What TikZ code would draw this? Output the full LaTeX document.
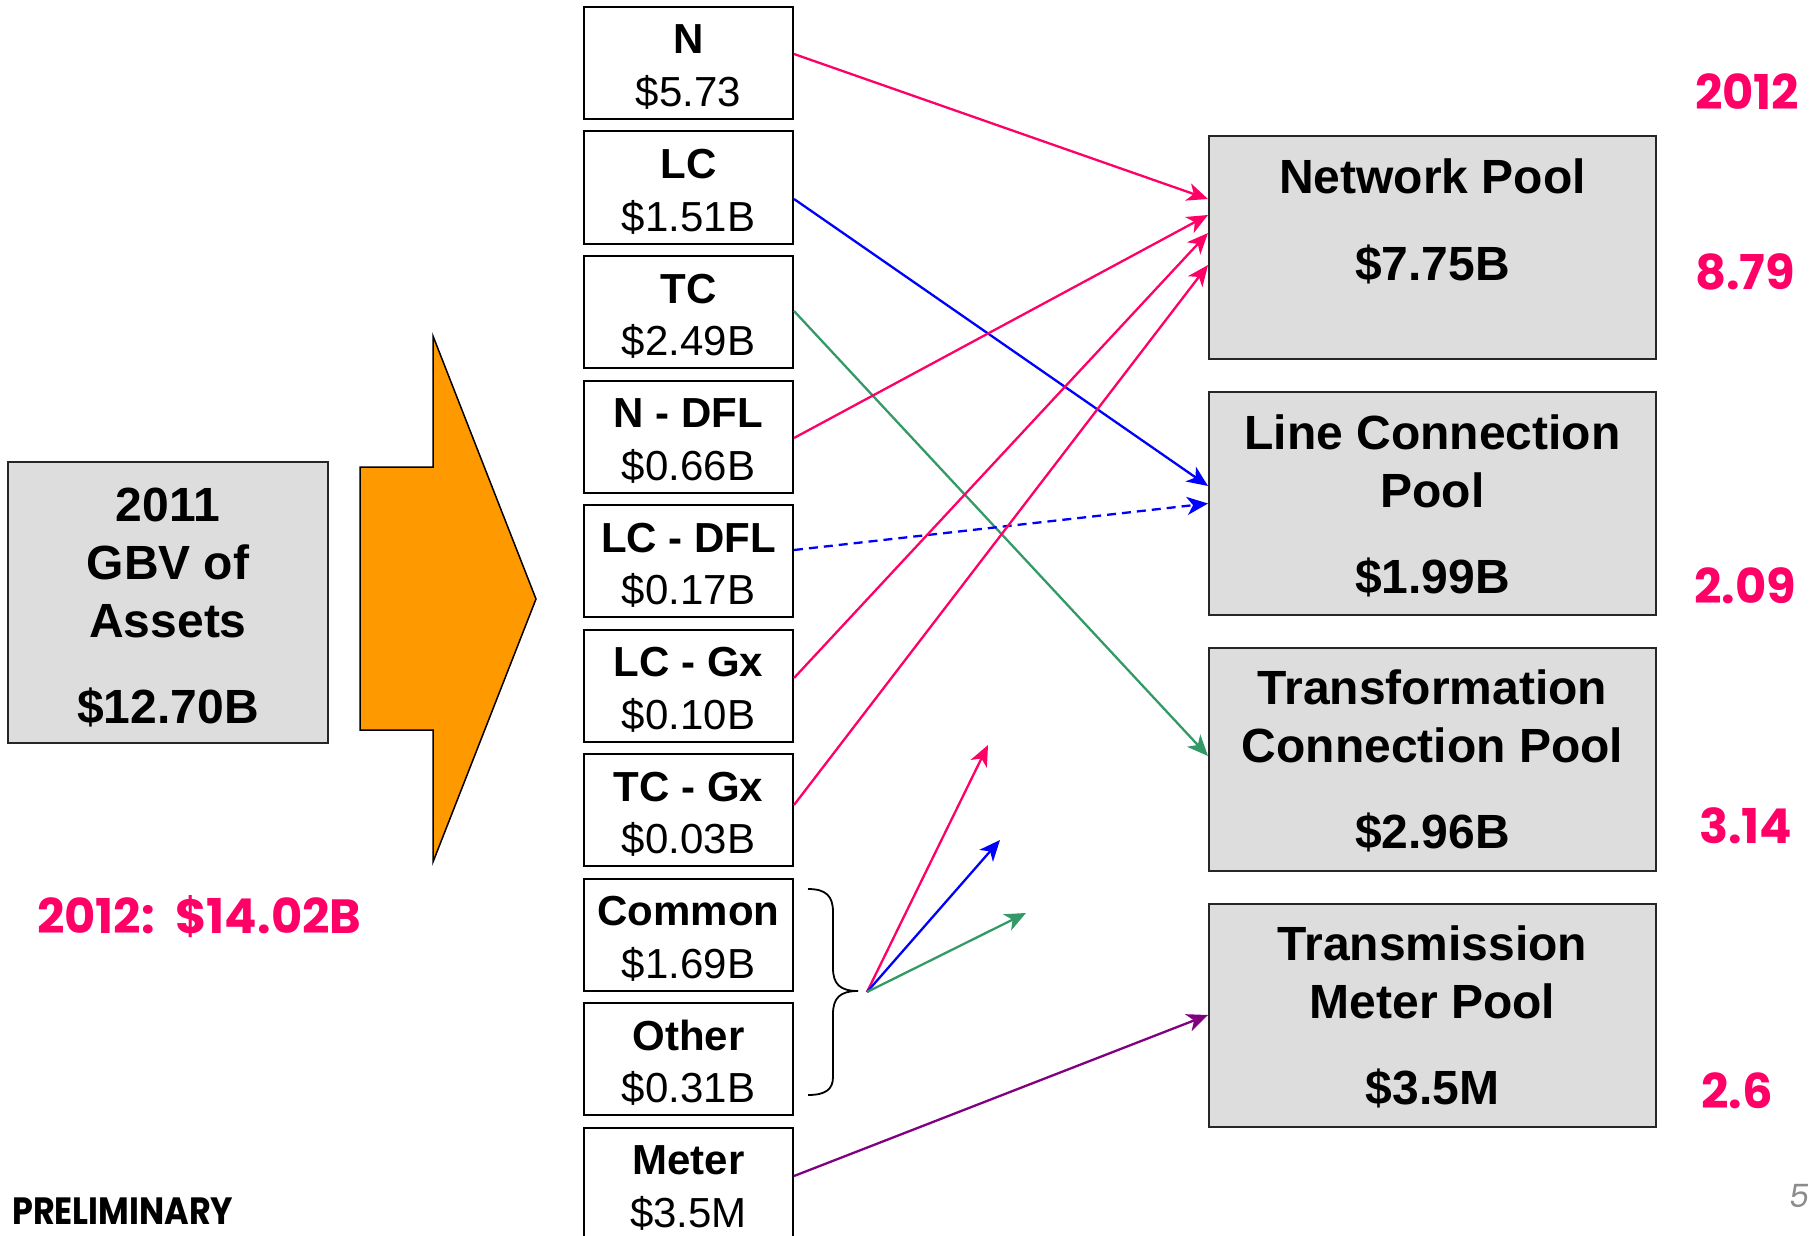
\documentclass[tikz,border=0pt]{standalone}
\usepackage{fontspec}
\setmainfont{Liberation Sans}
\newfontfamily\geofont{Poppins}
\newfontfamily\geonarrow[FakeStretch=0.88]{Poppins}
\usetikzlibrary{arrows.meta}
\definecolor{cred}{HTML}{FF0066}
\definecolor{cblue}{HTML}{0000FF}
\definecolor{cgreen}{HTML}{339966}
\definecolor{cpurple}{HTML}{800080}
\definecolor{corange}{HTML}{FF9900}
\definecolor{boxgray}{HTML}{DDDDDD}
\newcommand\tlines[1]{\begin{tabular}[t]{@{}c@{}}#1\end{tabular}}
\begin{document}
\begin{tikzpicture}[x=1pt,y=-1pt,
  src/.style={draw=black, line width=2pt, minimum width=209pt, minimum height=112pt, inner sep=0pt},
  stext/.style={anchor=base, inner sep=0pt, font=\fontsize{42}{52.5}\selectfont},
  pool/.style={draw=black!85, fill=boxgray, line width=2pt, minimum width=447pt, minimum height=223pt, inner sep=0pt},
  ptext/.style={anchor=base, inner sep=0pt, font=\fontsize{48}{58}\selectfont\bfseries},
  conn/.style={line width=2.3pt, -{Stealth[length=21pt,width=18pt,inset=6pt]}},
  rednum/.style={anchor=base west, inner sep=0pt, text=cred, font=\geofont\fontsize{48}{50}\selectfont\bfseries}
]
\useasboundingbox (0,0) rectangle (1817,1236);
\clip (0,0) rectangle (1817,1236);

% left assets box
\node[pool, minimum width=320pt, minimum height=281pt] (assets) at (168,602.5) {};
\node[ptext] (assets-t) at ([yshift=81.5pt]assets.center) {\tlines{2011\\GBV of\\Assets\\[28pt]\$12.70B}};

% orange arrow
\draw[fill=corange, line width=1.5pt, line join=miter] (360,467) -- (433,467) -- (433,336) -- (536,599) -- (433,862) -- (433,730) -- (360,730) -- cycle;

% source boxes
\node[src] (n) at (688.5,63) {};
\node[src] (lc) at (688.5,187.5) {};
\node[src] (tc) at (688.5,312) {};
\node[src] (ndfl) at (688.5,436.5) {};
\node[src] (lcdfl) at (688.5,561) {};
\node[src] (lcgx) at (688.5,685.5) {};
\node[src] (tcgx) at (688.5,810) {};
\node[src] (common) at (688.5,934.5) {};
\node[src] (other) at (688.5,1059) {};
\node[src] (meter) at (688.5,1183.5) {};

\node[stext] (n-t) at ([yshift=9pt]n.center) {\tlines{\textbf{N}\\\$5.73}};
\node[stext] (lc-t) at ([yshift=9pt]lc.center) {\tlines{\textbf{LC}\\\$1.51B}};
\node[stext] (tc-t) at ([yshift=9pt]tc.center) {\tlines{\textbf{TC}\\\$2.49B}};
\node[stext] (ndfl-t) at ([yshift=9pt]ndfl.center) {\tlines{\textbf{N - DFL}\\\$0.66B}};
\node[stext] (lcdfl-t) at ([yshift=9pt]lcdfl.center) {\tlines{\textbf{LC - DFL}\\\$0.17B}};
\node[stext] (lcgx-t) at ([yshift=9pt]lcgx.center) {\tlines{\textbf{LC - Gx}\\\$0.10B}};
\node[stext] (tcgx-t) at ([yshift=9pt]tcgx.center) {\tlines{\textbf{TC - Gx}\\\$0.03B}};
\node[stext] (common-t) at ([yshift=9pt]common.center) {\tlines{\textbf{Common}\\\$1.69B}};
\node[stext] (other-t) at ([yshift=9pt]other.center) {\tlines{\textbf{Other}\\\$0.31B}};
\node[stext] (meter-t) at ([yshift=9pt]meter.center) {\tlines{\textbf{Meter}\\\$3.5M}};

% pools
\node[pool] (np) at (1432.5,247.5) {};
\node[pool] (lcp) at (1432.5,503.5) {};
\node[pool] (tcp) at (1432.5,759) {};
\node[pool] (tmp) at (1432.5,1015) {};

\node[ptext] (np-t) at ([yshift=54.5pt]np.center) {Network Pool};
\node[ptext] (np-v) at ([yshift=-32.5pt]np.center) {\$7.75B};
\node[ptext] (lcp-t) at ([yshift=54.5pt]lcp.center) {\tlines{Line Connection\\Pool}};
\node[ptext] (lcp-v) at ([yshift=-89.5pt]lcp.center) {\$1.99B};
\node[ptext] (tcp-t) at ([yshift=54.5pt]tcp.center) {\tlines{Transformation\\Connection Pool}};
\node[ptext] (tcp-v) at ([yshift=-89.5pt]tcp.center) {\$2.96B};
\node[ptext] (tmp-t) at ([yshift=54.5pt]tmp.center) {\tlines{Transmission\\Meter Pool}};
\node[ptext] (tmp-v) at ([yshift=-89.5pt]tmp.center) {\$3.5M};

% connectors
\draw[conn, cred] ([yshift=9pt]n.east) -- ([yshift=48.5pt]np.west);
\draw[conn, cblue] ([yshift=-11.5pt]lc.east) -- ([yshift=17.5pt]lcp.west);
\draw[conn, cgreen] ([yshift=1pt]tc.east) -- ([yshift=3pt]tcp.west);
\draw[conn, cred] ([yshift=-1.5pt]ndfl.east) -- ([yshift=32.5pt]np.west);
\draw[conn, cblue, dash pattern=on 9pt off 6pt] ([yshift=11pt]lcdfl.east) -- (lcp.west);
\draw[conn, cred] ([yshift=7.5pt]lcgx.east) -- ([yshift=14.5pt]np.west);
\draw[conn, cred] ([yshift=5pt]tcgx.east) -- ([yshift=-17.5pt]np.west);
\draw[conn, cpurple] ([yshift=7.5pt]meter.east) -- (tmp.west);

% brace
\draw[line width=1.8pt] (808,889) .. controls (826,889) and (833,896) .. (833,912) -- (833,968) .. controls (833,984) and (840,991) .. (858,991);
\draw[line width=1.8pt] (858,991) .. controls (840,991) and (833,998) .. (833,1014) -- (833,1077) .. controls (833,1089) and (826,1095) .. (808,1095);

% fan arrows
\coordinate (fan) at (867,992);
\coordinate (fanr) at (988,745);
\coordinate (fanb) at (1000,840);
\coordinate (fang) at (1026,913);
\draw[conn, cred] (fan) -- (fanr);
\draw[conn, cblue] (fan) -- (fanb);
\draw[conn, cgreen] (fan) -- (fang);

% red numbers
\node[rednum] (y12) at (1695,110) {2012};
\node[rednum] (v1) at (1695,289) {8.79};
\node[rednum] (v2) at (1694,603) {2.09};
\node[rednum] (v3) at (1699,843) {3.14};
\node[rednum] (v4) at (1701,1108) {2.6};
\node[rednum] (tot) at (37,933) {2012:\ \ \$14.02B};

\node[anchor=base west, inner sep=0pt, font=\geonarrow\fontsize{38}{40}\selectfont\bfseries] (prelim) at (12,1224) {PRELIMINARY};
\node[anchor=base, inner sep=0pt, text=black!45, font=\geofont\fontsize{32}{34}\selectfont\itshape] (pg) at (1800,1207) {5};
\end{tikzpicture}
\end{document}
